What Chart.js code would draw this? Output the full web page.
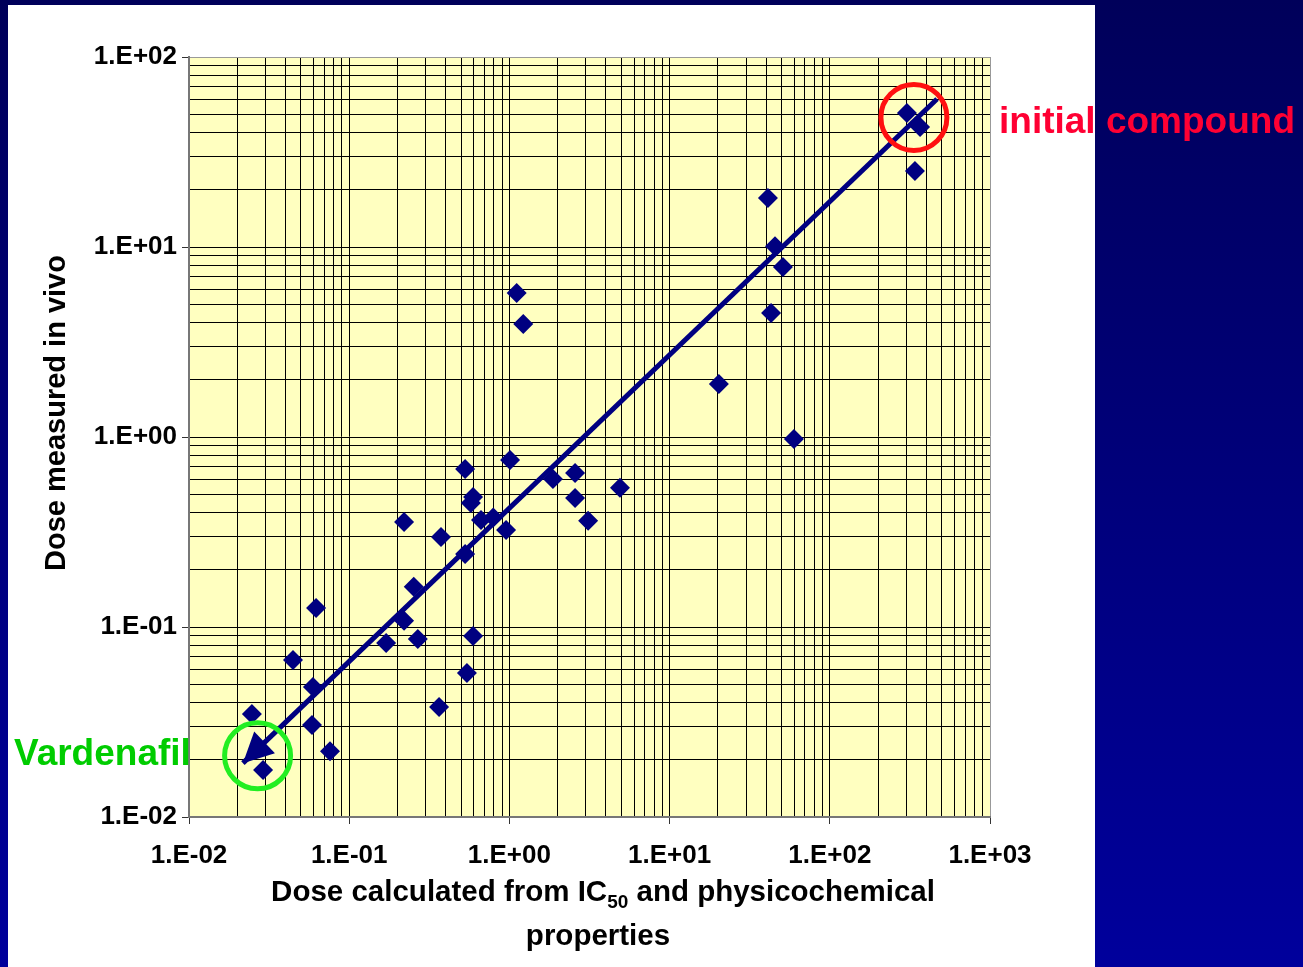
<!DOCTYPE html>
<html>
<head>
<meta charset="utf-8">
<title>Dose measured in vivo vs calculated dose</title>
<script src="https://cdn.jsdelivr.net/npm/chart.js@4.4.1/dist/chart.umd.min.js"></script>
<style>
  html, body { margin: 0; padding: 0; }
  body { width: 1303px; height: 967px; overflow: hidden; position: relative;
         background: linear-gradient(#00005a, #00009c); }
  #panel { position: absolute; left: 8px; top: 5px; width: 1087px; height: 962px; background: #fff; }
  #c { position: absolute; left: 0; top: 0; }
</style>
</head>
<body>
<div id="panel"></div>
<canvas id="c" width="1303" height="967"></canvas>
<script>
// values (log-log)
const calcDose = [303, 366, 340, 41.1, 45.5, 51.0, 43.0, 59.7, 20.3, 1.11,
  1.22, 1.01, 0.529, 1.87, 2.57, 2.57, 4.90, 3.10, 0.593, 0.575,
  0.665, 0.793, 0.953, 0.220, 0.374, 0.529, 0.253, 0.0621, 0.220, 0.268,
  0.170, 0.593, 0.0446, 0.0594, 0.543, 0.364, 0.0586, 0.0247, 0.0759, 0.0290];
const measuredDose = [50.7, 42.8, 25.1, 18.1, 10.1, 7.85, 4.49, 0.975, 1.90, 5.73,
  3.93, 0.757, 0.679, 0.601, 0.647, 0.478, 0.540, 0.362, 0.483, 0.450,
  0.366, 0.377, 0.324, 0.357, 0.298, 0.242, 0.163, 0.126, 0.108, 0.0865,
  0.0824, 0.0898, 0.0670, 0.0483, 0.0573, 0.0379, 0.0305, 0.0348, 0.0222, 0.0177];

// trend arrow, from the top end down to the arrow tip
const fitX = [467, 0.0217];
const fitY = [60.1, 0.0192];

const xDecades = [0.01, 0.1, 1, 10, 100, 1000];
const xTickLabels = ['1.E-02', '1.E-01', '1.E+00', '1.E+01', '1.E+02', '1.E+03'];
const yDecades = [0.01, 0.1, 1, 10, 100];
const yTickLabels = ['1.E-02', '1.E-01', '1.E+00', '1.E+01', '1.E+02'];

// highlighted compounds: initial compound, Vardenafil
const circleX = [335, 0.0268];
const circleY = [48.1, 0.0210];
const circleColors = ['#ff1010', '#22ee22'];

const FONT = "'Liberation Sans', Arial, sans-serif";
const NAVY = '#000080';

function logTicks(decades) {
  const out = [];
  decades.forEach((d, i) => {
    if (i === decades.length - 1) { out.push({ value: d }); return; }
    for (let m = 1; m <= 9; m++) out.push({ value: +(m * d).toPrecision(6) });
  });
  return out;
}

function labelFor(decades, labels, v) {
  const i = decades.findIndex(d => Math.abs(v / d - 1) < 1e-6);
  return i < 0 ? '' : labels[i];
}

function logAxis(decades, labels, pad) {
  const top = decades[decades.length - 1];
  return {
    type: 'logarithmic',
    min: decades[0],
    max: top,
    afterBuildTicks: s => { s.ticks = logTicks(decades); },
    ticks: {
      autoSkip: false, maxRotation: 0, minRotation: 0,
      padding: pad,
      color: '#000',
      font: { family: FONT, size: 26, weight: 'bold' },
      callback: v => labelFor(decades, labels, v)
    },
    grid: {
      color: c => (c.tick && c.tick.value === top) ? '#999' : '#000',
      lineWidth: 1,
      tickLength: 7,
      tickColor: c => (c.tick && labelFor(decades, labels, c.tick.value)) ? '#333' : 'rgba(0,0,0,0)'
    },
    border: { display: true, color: '#777', width: 2 }
  };
}

const decor = {
  id: 'decor',
  beforeDraw(chart) {
    const { ctx, chartArea: a } = chart;
    ctx.save();
    ctx.fillStyle = '#ffffc0';
    ctx.fillRect(a.left, a.top, a.right - a.left, a.bottom - a.top);
    ctx.restore();
  },
  afterDatasetsDraw(chart) {
    const { ctx, scales: { x, y } } = chart;
    ctx.save();
    // arrow head at the low end of the trend line
    const pts = chart.getDatasetMeta(1).data;
    const tip = pts[pts.length - 1], prev = pts[pts.length - 2];
    const ang = Math.atan2(tip.y - prev.y, tip.x - prev.x);
    const L = 30, W = 15;
    const bx = tip.x - L * Math.cos(ang), by = tip.y - L * Math.sin(ang);
    ctx.fillStyle = NAVY;
    ctx.beginPath();
    ctx.moveTo(tip.x, tip.y);
    ctx.lineTo(bx + W * Math.sin(ang), by - W * Math.cos(ang));
    ctx.lineTo(bx - W * Math.sin(ang), by + W * Math.cos(ang));
    ctx.closePath();
    ctx.fill();

    ctx.lineWidth = 5;
    circleX.forEach((cx, i) => {
      ctx.strokeStyle = circleColors[i];
      ctx.beginPath();
      ctx.arc(x.getPixelForValue(cx), y.getPixelForValue(circleY[i]), 33, 0, Math.PI * 2);
      ctx.stroke();
    });
    ctx.restore();
  },
  afterDraw(chart) {
    const ctx = chart.ctx;
    ctx.save();
    ctx.textBaseline = 'alphabetic';
    ctx.textAlign = 'left';
    ctx.font = 'bold 37px ' + FONT;
    ctx.fillStyle = '#ff0033';
    ctx.fillText('initial compound', 999, 133);
    ctx.fillStyle = '#00cc00';
    ctx.fillText('Vardenafil', 14, 765);

    // x axis title with the IC50 subscript
    const big = 'bold 29.5px ' + FONT, small = 'bold 19px ' + FONT;
    const parts = [['Dose calculated from IC', big, 0], ['50', small, 7], [' and physicochemical', big, 0]];
    let w = 0;
    parts.forEach(p => { ctx.font = p[1]; w += ctx.measureText(p[0]).width; });
    let px = 603 - w / 2;
    ctx.fillStyle = '#000';
    parts.forEach(p => {
      ctx.font = p[1];
      ctx.fillText(p[0], px, 901 + p[2]);
      px += ctx.measureText(p[0]).width;
    });
    ctx.font = big;
    ctx.textAlign = 'center';
    ctx.fillText('properties', 598, 945);

    // y axis title
    ctx.translate(65, 413);
    ctx.rotate(-Math.PI / 2);
    ctx.font = 'bold 29px ' + FONT;
    ctx.fillText('Dose measured in vivo', 0, 0);
    ctx.restore();
  }
};

const xAxis = logAxis(xDecades, xTickLabels, 16);
xAxis.afterFit = s => { s.height = 150; };
const yAxis = logAxis(yDecades, yTickLabels, 5);
yAxis.afterFit = s => { s.width = 189; };

new Chart(document.getElementById('c'), {
  type: 'scatter',
  data: {
    datasets: [{
      label: 'compounds',
      data: calcDose.map((v, i) => ({ x: v, y: measuredDose[i] })),
      pointStyle: 'rectRot',
      pointRadius: 10,
      backgroundColor: NAVY,
      borderColor: NAVY,
      borderWidth: 0
    }, {
      label: 'trend',
      data: fitX.map((v, i) => ({ x: v, y: fitY[i] })),
      showLine: true,
      pointRadius: 0,
      borderColor: NAVY,
      borderWidth: 5,
      borderCapStyle: 'butt'
    }]
  },
  options: {
    responsive: false,
    animation: false,
    devicePixelRatio: 1,
    layout: { padding: { left: 0, top: 57, right: 313, bottom: 0 } },
    plugins: { legend: { display: false }, tooltip: { enabled: false } },
    scales: { x: xAxis, y: yAxis }
  },
  plugins: [decor]
});
</script>
</body>
</html>
